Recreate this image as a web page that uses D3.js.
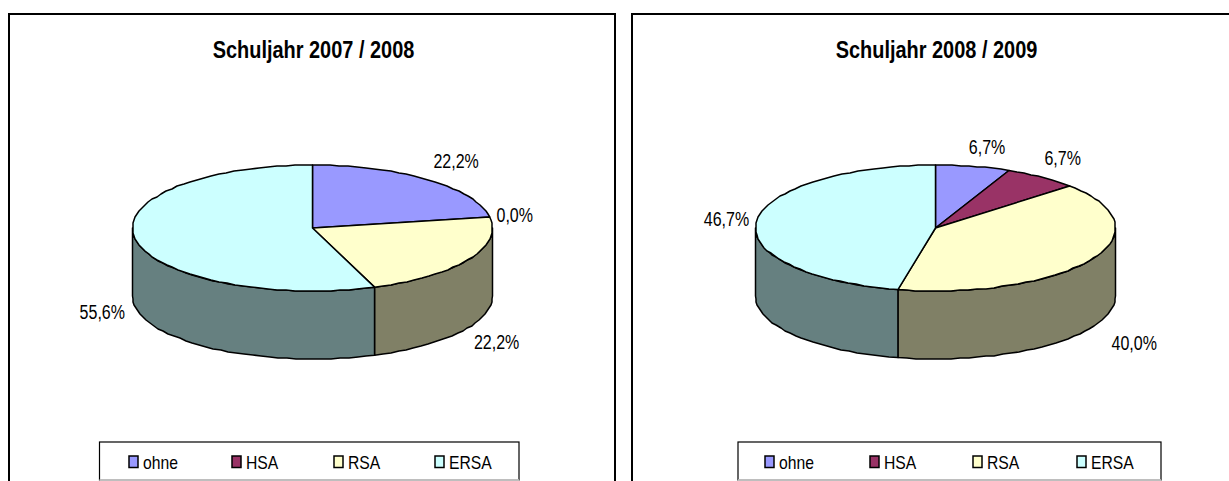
<!DOCTYPE html>
<html><head><meta charset="utf-8">
<script src="https://cdn.jsdelivr.net/npm/d3@7"></script>
<style>html,body{margin:0;padding:0;background:#fff}svg{display:block}text{font-family:"Liberation Sans",Arial,sans-serif;fill:#000}</style>
</head><body><svg id="c" width="1229" height="481"></svg>
<script>
const categories = ["ohne","HSA","RSA","ERSA"];
const colors = ["#9999FF","#993366","#FFFFCC","#CCFFFF"];
const titles = ["Schuljahr 2007 / 2008","Schuljahr 2008 / 2009"];
const values2007 = [22.2,0.0,22.2,55.6];
const values2008 = [6.7,6.7,40.0,46.7];
const labelOffsets2007 = [[28,-19],[25,-2],[28,15],[-33,5]];
const labelOffsets2008 = [[14,-19],[21,-19],[43,15],[-30,-2]];
const frames = [{x:9,w:606,cx:312.5,leg:99.5,legW:419.5,sw:[129,232,334,435]},{x:632,w:640,cx:935.5,leg:738,legW:423,sw:[765,870,973,1077]}];
const cy=228, rx=180, ry=63, depth=68;
const svg=d3.select("#c");
const fmt=v=>v.toFixed(1).replace(".",",")+"%";
const px=(f,a)=>f.cx+rx*Math.sin(a), py=a=>cy-ry*Math.cos(a);
const line=d3.line();
function arcPts(f,a0,a1,dy){const n=Math.max(2,Math.ceil((a1-a0)/0.05));return d3.range(n+1).map(i=>{const a=a0+(a1-a0)*i/n;const e=(i==0||i==n);return [e?px(f,a):Math.round(px(f,a)),(e?py(a):Math.round(py(a)))+dy];});}
function label(g,x,y,str,size,sx,weight,anchor){
  g.append("text").attr("transform",`translate(${x},${y}) scale(${sx},1)`).attr("text-anchor",anchor||"middle").attr("font-size",size).attr("font-weight",weight||"normal").text(str);
}
function chart(f,values,title,offsets){
  const g=svg.append("g");
  g.append("path").attr("d",line([[f.x,481],[f.x,14],[f.x+f.w,14],[f.x+f.w,481]])).attr("fill","none").attr("stroke","#000").attr("stroke-width",2);
  label(g,f.cx+1,58,title,23,0.867,"bold");
  const arcs=d3.pie().sort(null).value(d=>d)(values);
  arcs.forEach((d,i)=>{
    const a0=Math.max(d.startAngle,Math.PI/2), a1=Math.min(d.endAngle,Math.PI*1.5);
    if(a1<=a0)return;
    const c=d3.rgb(colors[i]);
    const side=d3.rgb(c.r*0.5,c.g*0.5,c.b*0.5);
    const top=arcPts(f,a0,a1,0), bot=arcPts(f,a0,a1,depth).reverse();
    g.append("path").attr("d",line(top.concat(bot))+"Z").attr("fill",side.formatHex()).attr("stroke","#000").attr("stroke-width",1.5).attr("stroke-linejoin","round");
  });
  arcs.forEach((d,i)=>{
    if(d.endAngle-d.startAngle<=0)return;
    const pts=[[f.cx,cy]].concat(arcPts(f,d.startAngle,d.endAngle,0));
    g.append("path").attr("d",line(pts)+"Z").attr("fill",colors[i]).attr("stroke","#000").attr("stroke-width",1.5).attr("stroke-linejoin","round");
  });
  arcs.forEach((d,i)=>{
    const m=(d.startAngle+d.endAngle)/2;
    const lower=Math.cos(m)<0;
    const x=px(f,m)+offsets[i][0], y=py(m)+(lower?depth:0)+offsets[i][1]+7;
    label(g,x,y,fmt(values[i]),20,0.8);
  });
  g.append("rect").attr("x",f.leg).attr("y",442).attr("width",f.legW).attr("height",38).attr("fill","#fff").attr("stroke","#000").attr("stroke-width",1.2);
  g.append("line").attr("x1",f.leg).attr("x2",f.leg+f.legW).attr("y1",480).attr("y2",480).attr("stroke","#ddd").attr("stroke-width",1.4);
  categories.forEach((c,i)=>{
    g.append("rect").attr("x",f.sw[i]).attr("y",456).attr("width",9).attr("height",11.5).attr("fill",colors[i]).attr("stroke","#000").attr("stroke-width",1.5);
    label(g,f.sw[i]+14,469,c,18.5,0.85,"normal","start");
  });
}
chart(frames[0],values2007,titles[0],labelOffsets2007);
chart(frames[1],values2008,titles[1],labelOffsets2008);
</script></body></html>
